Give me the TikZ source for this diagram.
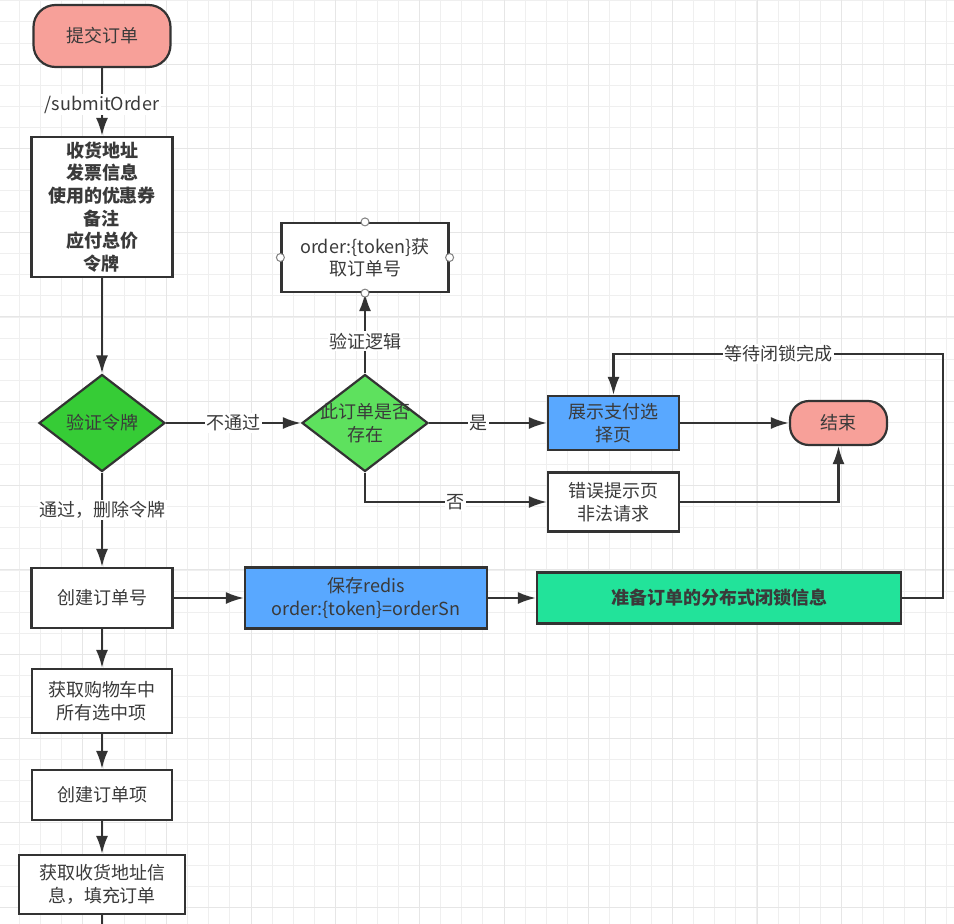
\documentclass[tikz,border=0pt]{standalone}
\usepackage{fontspec}
\setmainfont{Noto Sans CJK SC}
\usetikzlibrary{shapes.geometric,arrows.meta}
\definecolor{ink}{HTML}{333333}
\definecolor{txt}{HTML}{3A3A3A}
\definecolor{salmon}{HTML}{F7A099}
\definecolor{grnA}{HTML}{36CC36}
\definecolor{grnB}{HTML}{5EE15E}
\definecolor{blueA}{HTML}{59A8FF}
\definecolor{grnC}{HTML}{22E39A}
\definecolor{gridA}{HTML}{EFEFEF}
\definecolor{gridB}{HTML}{E6E6E6}

\begin{document}
\begin{tikzpicture}[>={Latex[length=18pt,width=12pt]}, x=1pt, y=-1pt, line width=2.2pt, font=\fontsize{18}{22.6}\selectfont,
  box/.style={draw=ink, fill=white, text=txt, align=center, inner sep=0pt},
  pill/.style={box, fill=salmon, rounded corners=22pt},
  decide/.style={draw=ink, shape=diamond, inner sep=0pt, minimum width=126pt, minimum height=97pt},
  tag/.style={fill=white, text=txt, inner sep=1.5pt},
  handle/.style={draw=gray, fill=white, line width=1pt}]
\useasboundingbox (0,0) rectangle (954,924);
\fill[white] (0,0) rectangle (954,924);
\foreach \i in {0,...,45} \draw[gridA, line width=0.8pt] ({-2+21.08*\i},0) -- ++(0,924);
\foreach \i in {0,...,43} \draw[gridA, line width=0.8pt] (0,{0.76+21.08*\i}) -- ++(954,0);
\foreach \i in {0,...,11} \draw[gridB, line width=1pt] ({-1.8+84.32*\i},0) -- ++(0,924);
\foreach \i in {0,...,10} \draw[gridB, line width=1pt] (0,{64+84.32*\i}) -- ++(954,0);

\node[pill, minimum width=137pt, minimum height=62pt] (start) at (102,36) {提交订单};
\node[box, minimum width=141pt, minimum height=140pt, font=\fontsize{18}{22.6}\selectfont\bfseries] (info) at (102,207) {收货地址\\发票信息\\使用的优惠券\\备注\\应付总价\\令牌};
\node[decide, fill=grnA, label={[text=txt]center:验证令牌}] (check) at (102,423) {};
\node[decide, fill=grnB, label={[text=txt, align=center]center:{此订单是否\\存在}}] (exist) at (365,423) {};
\node[box, minimum width=167pt, minimum height=69pt] (token) at (365,257.5) {order:\{token\}获\\取订单号};
\node[box, fill=blueA, minimum width=131pt, minimum height=54pt] (pay) at (613.5,423) {展示支付选\\择页};
\node[pill, rounded corners=19pt, minimum width=97pt, minimum height=44pt] (end) at (838.5,423) {结束};
\node[box, minimum width=131pt, minimum height=59pt] (err) at (613.5,502) {错误提示页\\非法请求};
\node[box, minimum width=141pt, minimum height=60pt] (orderno) at (102,598) {创建订单号};
\node[box, fill=blueA, minimum width=242pt, minimum height=61pt] (redis) at (366,598) {保存redis\\order:\{token\}=orderSn};
\node[box, fill=grnC, minimum width=364pt, minimum height=51pt, font=\fontsize{18}{22.6}\selectfont\bfseries] (lock) at (719,598) {准备订单的分布式闭锁信息};
\node[box, minimum width=140pt, minimum height=64pt] (cart) at (102,701) {获取购物车中\\所有选中项};
\node[box, minimum width=140pt, minimum height=50pt] (item) at (102,795) {创建订单项};
\node[box, minimum width=166pt, minimum height=59pt] (addr) at (102,884.5) {获取收货地址信\\息，填充订单};
\coordinate (corner) at (943,354);
\coordinate (down) at (102,930);

\draw[->, ink] (start) -- node[tag, pos=0.54]{/submitOrder} (info);
\draw[->, ink] (info) -- (check);
\draw[->, ink] (check) -- node[tag]{不通过} (exist);
\draw[->, ink] (exist) -- node[tag, pos=0.4]{验证逻辑} (token);
\draw[->, ink] (exist) -- node[tag, pos=0.42]{是} (pay);
\draw[->, ink] (pay) -- (end);
\draw[->, ink] (exist.south) |- node[tag, pos=0.75]{否} (err.west);
\draw[->, ink] (err.east) -| (end.south);
\draw[->, ink] (check) -- node[tag, pos=0.4]{通过，删除令牌} (orderno);
\draw[->, ink] (orderno) -- (redis);
\draw[->, ink] (redis) -- (lock);
\draw[->, ink] (lock.east) -| (corner) -| node[tag, pos=0.25]{等待闭锁完成} (pay.north);
\draw[->, ink] (orderno) -- (cart);
\draw[->, ink] (cart) -- (item);
\draw[->, ink] (item) -- (addr);
\draw[ink] (addr) -- (down);
\foreach \a in {north,south,east,west} \draw[handle] (token.\a) circle (4pt);
\end{tikzpicture}
\end{document}
